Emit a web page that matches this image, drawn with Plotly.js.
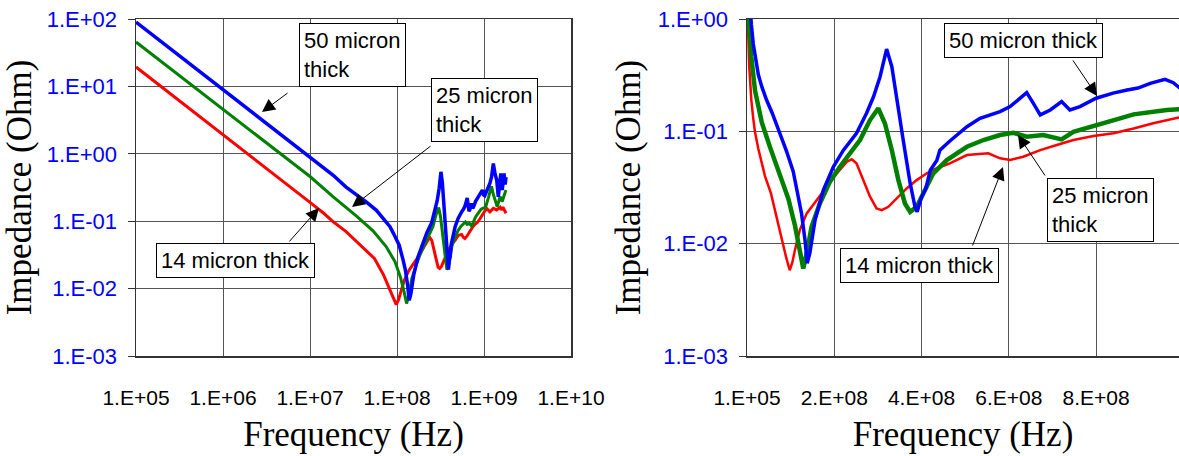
<!DOCTYPE html>
<html>
<head>
<meta charset="utf-8">
<script src="https://cdn.plot.ly/plotly-3.0.1.min.js"></script>
<style>html,body{margin:0;padding:0;background:#fff;}#chart{width:1179px;height:456px;}</style>
</head>
<body>
<div id="chart"></div>
<script>
// ---- Data (frequency in Hz, impedance in Ohm) ----
const freq14 = [1e5, 2e5, 5e5, 1e6, 2e6, 5e6, 1e7, 1.45e7, 1.85e7, 2.6e7, 3.44e7, 4.13e7, 5.5e7, 7.0e7, 8.3e7, 9.0e7, 9.8e7, 1.04e8, 1.10e8, 1.21e8, 1.37e8, 1.60e8, 1.83e8, 2.06e8, 2.29e8, 2.40e8, 2.51e8, 2.67e8, 2.82e8, 2.97e8, 3.09e8, 3.24e8, 3.43e8, 3.66e8, 3.89e8, 4.12e8, 4.35e8, 4.65e8, 5.04e8, 5.53e8, 5.80e8, 6.03e8, 6.33e8, 6.72e8, 7.1e8, 7.48e8, 7.94e8, 8.4e8, 8.86e8, 9.31e8, 9.9e8, 1.07e9, 1.17e9, 1.28e9, 1.4e9, 1.53e9, 1.58e9, 1.65e9, 1.79e9];
const imp14 = [19.4, 9.7, 3.9, 1.94, 0.97, 0.39, 0.19, 0.13, 0.098, 0.07, 0.05, 0.04, 0.028, 0.016, 0.0095, 0.0075, 0.0058, 0.0068, 0.0088, 0.0132, 0.0186, 0.0244, 0.0321, 0.0423, 0.0536, 0.0564, 0.0519, 0.0368, 0.0262, 0.0206, 0.0199, 0.0213, 0.0253, 0.031, 0.0368, 0.0423, 0.0469, 0.0519, 0.0615, 0.0637, 0.0575, 0.0555, 0.0594, 0.068, 0.0755, 0.0837, 0.0908, 0.096, 0.106, 0.118, 0.133, 0.155, 0.138, 0.155, 0.147, 0.161, 0.147, 0.161, 0.131];

const freq25 = [1e5, 2e5, 5e5, 1e6, 2e6, 5e6, 1e7, 1.85e7, 3.4e7, 5.3e7, 7.5e7, 9.5e7, 1.1e8, 1.21e8, 1.29e8, 1.37e8, 1.48e8, 1.67e8, 1.90e8, 2.13e8, 2.36e8, 2.59e8, 2.82e8, 3.01e8, 3.16e8, 3.32e8, 3.47e8, 3.62e8, 3.74e8, 3.89e8, 4.04e8, 4.27e8, 4.58e8, 5.04e8, 5.42e8, 5.80e8, 6.10e8, 6.41e8, 6.79e8, 7.21e8, 7.48e8, 7.79e8, 8.09e8, 8.47e8, 8.86e8, 9.24e8, 9.62e8, 9.9e8, 1.04e9, 1.12e9, 1.22e9, 1.28e9, 1.34e9, 1.42e9, 1.53e9, 1.62e9, 1.71e9, 1.79e9];
const imp25 = [45.6, 22.8, 9.1, 4.55, 2.28, 0.91, 0.46, 0.23, 0.12, 0.072, 0.042, 0.025, 0.0145, 0.0088, 0.006, 0.0082, 0.0141, 0.0228, 0.0356, 0.0484, 0.0637, 0.0837, 0.126, 0.160, 0.118, 0.068, 0.0368, 0.0228, 0.0192, 0.0213, 0.028, 0.0423, 0.0555, 0.0729, 0.0837, 0.0927, 0.0972, 0.0895, 0.0927, 0.0849, 0.099, 0.1076, 0.118, 0.128, 0.1416, 0.1495, 0.155, 0.157, 0.16, 0.22, 0.33, 0.25, 0.206, 0.164, 0.231, 0.195, 0.245, 0.29];

const freq50 = [1e5, 2e5, 5e5, 1e6, 2e6, 5e6, 7e6, 1e7, 1.45e7, 1.85e7, 2.6e7, 3.4e7, 4.5e7, 5.8e7, 6.8e7, 8.3e7, 9.1e7, 1.06e8, 1.18e8, 1.25e8, 1.33e8, 1.38e8, 1.44e8, 1.56e8, 1.75e8, 1.98e8, 2.21e8, 2.51e8, 2.74e8, 2.90e8, 3.05e8, 3.20e8, 3.32e8, 3.43e8, 3.58e8, 3.74e8, 3.85e8, 3.90e8, 4.0e8, 4.1e8, 4.2e8, 4.35e8, 4.42e8, 4.65e8, 5.04e8, 5.34e8, 5.57e8, 5.80e8, 6.03e8, 6.26e8, 6.41e8, 6.56e8, 6.72e8, 6.95e8, 7.21e8, 7.40e8, 7.63e8, 8.0e8, 8.39e8, 8.71e8, 8.96e8, 9.24e8, 9.58e8, 9.77e8, 9.9e8, 1.02e9, 1.1e9, 1.17e9, 1.22e9, 1.28e9, 1.34e9, 1.4e9, 1.46e9, 1.51e9, 1.56e9, 1.62e9, 1.70e9, 1.75e9, 1.79e9];
const imp50 = [90, 45, 18, 9.0, 4.5, 1.8, 1.28, 0.9, 0.6, 0.48, 0.32, 0.25, 0.19, 0.145, 0.115, 0.083, 0.066, 0.044, 0.026, 0.0186, 0.0108, 0.0067, 0.0082, 0.0162, 0.030, 0.0484, 0.068, 0.096, 0.145, 0.203, 0.306, 0.54, 0.376, 0.19, 0.0837, 0.0344, 0.0213, 0.0192, 0.026, 0.031, 0.045, 0.055, 0.068, 0.082, 0.110, 0.1306, 0.14, 0.15, 0.166, 0.197, 0.221, 0.178, 0.140, 0.155, 0.184, 0.155, 0.166, 0.197, 0.219, 0.233, 0.243, 0.267, 0.29, 0.271, 0.246, 0.24, 0.30, 0.365, 0.45, 0.72, 0.5, 0.41, 0.23, 0.4, 0.51, 0.29, 0.51, 0.35, 0.45];

const seriesNames = ['14 micron thick', '25 micron thick', '50 micron thick'];

// ---- Tick values and labels ----
const leftXTickVals = [1e5, 1e6, 1e7, 1e8, 1e9, 1e10];
const leftXTickText = ['1.E+05', '1.E+06', '1.E+07', '1.E+08', '1.E+09', '1.E+10'];
const leftYTickVals = [1e-3, 1e-2, 1e-1, 1e0, 1e1, 1e2];
const leftYTickText = ['1.E-03', '1.E-02', '1.E-01', '1.E+00', '1.E+01', '1.E+02'];
const rightXTickVals = [1e5, 2e8, 4e8, 6e8, 8e8];
const rightXTickText = ['1.E+05', '2.E+08', '4.E+08', '6.E+08', '8.E+08'];
const rightYTickVals = [1e-3, 1e-2, 1e-1, 1e0];
const rightYTickText = ['1.E-03', '1.E-02', '1.E-01', '1.E+00'];

const xTitle = 'Frequency (Hz)';
const yTitle = 'Impedance (Ohm)';

// ---- Styling ----
const W = 1179, H = 456;
const SANS = 'Liberation Sans, Arial, sans-serif';
const SERIF = 'Liberation Serif, Times New Roman, serif';
const colors = ['#FF0000', '#008000', '#0000FF'];
const gridColor = '#555555';

const dataSets = [[freq14, imp14], [freq25, imp25], [freq50, imp50]];
const widthsLeft = [3, 3, 3.5];
const widthsRight = [2.5, 4.5, 3.5];

const traces = [];
dataSets.forEach((d, i) => {
  traces.push({x: d[0], y: d[1], type: 'scatter', mode: 'lines', name: seriesNames[i],
    xaxis: 'x', yaxis: 'y', line: {color: colors[i], width: widthsLeft[i]}, hoverinfo: 'x+y+name'});
});
dataSets.forEach((d, i) => {
  traces.push({x: d[0], y: d[1], type: 'scatter', mode: 'lines', name: seriesNames[i],
    xaxis: 'x2', yaxis: 'y2', line: {color: colors[i], width: widthsRight[i]}, hoverinfo: 'x+y+name', showlegend: false});
});

function px(x) { return x / W; }
function py(y) { return 1 - y / H; }

const boxFont = {family: SANS, size: 22, color: '#000'};
function box(x, y, text) {
  return {xref: 'paper', yref: 'paper', x: px(x), y: py(y), xanchor: 'left', yanchor: 'top',
    text: text, showarrow: false, font: boxFont, align: 'left', bgcolor: '#fff',
    bordercolor: '#000', borderwidth: 1, borderpad: 4};
}
function arrow(tipX, tipY, tailX, tailY) {
  return {xref: 'paper', yref: 'paper', x: px(tipX), y: py(tipY), text: '', showarrow: true,
    axref: 'pixel', ayref: 'pixel', ax: tailX - tipX, ay: tailY - tipY,
    arrowhead: 2, arrowsize: 2.6, arrowwidth: 1, arrowcolor: '#000', standoff: 0};
}

const annotations = [
  box(299, 23, '50 micron<br>thick'),
  arrow(262, 112, 289, 92),
  box(431, 78, '25 micron<br>thick'),
  arrow(352, 207, 432, 145),
  box(156, 243, '14 micron thick'),
  arrow(319, 208, 288, 243),
  box(944, 23, '50 micron thick'),
  arrow(1097, 96, 1072, 59),
  box(1047, 178, '25 micron<br>thick'),
  arrow(1018, 135, 1046, 177),
  box(840, 248, '14 micron thick'),
  arrow(1003, 167, 972, 247)
];

const yDomain = [1 - 356 / H, 1 - 19 / H];
const xTickFont = {family: SANS, size: 21, color: '#000'};
const yTickFont = {family: SANS, size: 22, color: '#0000FF'};
const titleFont = {family: SERIF, size: 35, color: '#000'};

const layout = {
  width: W, height: H,
  margin: {l: 0, r: 0, t: 0, b: 0, pad: 0},
  paper_bgcolor: '#fff', plot_bgcolor: '#fff',
  showlegend: false,
  xaxis: {
    type: 'log', domain: [136 / W, 571 / W], range: [5, 10], anchor: 'y',
    tickvals: leftXTickVals, ticktext: leftXTickText, tickfont: xTickFont,
    ticks: '', ticklabelstandoff: 22,
    showgrid: true, gridcolor: gridColor, gridwidth: 1, zeroline: false,
    showline: true, linecolor: '#333', linewidth: 1.5, mirror: true,
    title: {text: xTitle, font: titleFont, standoff: 14}
  },
  yaxis: {
    type: 'log', domain: yDomain, range: [-3, 2], anchor: 'x',
    tickvals: leftYTickVals, ticktext: leftYTickText, tickfont: yTickFont,
    ticks: 'outside', ticklen: 7, tickcolor: '#333', ticklabelstandoff: 6,
    showgrid: true, gridcolor: gridColor, gridwidth: 1, zeroline: false,
    showline: true, linecolor: '#333', linewidth: 1.5, mirror: true,
    title: {text: yTitle, font: titleFont, standoff: 6}
  },
  xaxis2: {
    type: 'linear', domain: [747 / W, 1], range: [1e5, 9.9e8], anchor: 'y2',
    tickvals: rightXTickVals, ticktext: rightXTickText, tickfont: xTickFont,
    ticks: '', ticklabelstandoff: 22,
    showgrid: true, gridcolor: gridColor, gridwidth: 1, zeroline: false,
    showline: true, linecolor: '#333', linewidth: 1.5, mirror: true,
    title: {text: xTitle, font: titleFont, standoff: 14}
  },
  yaxis2: {
    type: 'log', domain: yDomain, range: [-3, 0], anchor: 'x2',
    tickvals: rightYTickVals, ticktext: rightYTickText, tickfont: yTickFont,
    ticks: 'outside', ticklen: 7, tickcolor: '#333', ticklabelstandoff: 6,
    showgrid: true, gridcolor: gridColor, gridwidth: 1, zeroline: false,
    showline: true, linecolor: '#333', linewidth: 1.5, mirror: false,
    title: {text: yTitle, font: titleFont, standoff: 6}
  },
  annotations: annotations
};

Plotly.newPlot('chart', traces, layout, {staticPlot: true, displayModeBar: false});
</script>
</body>
</html>
